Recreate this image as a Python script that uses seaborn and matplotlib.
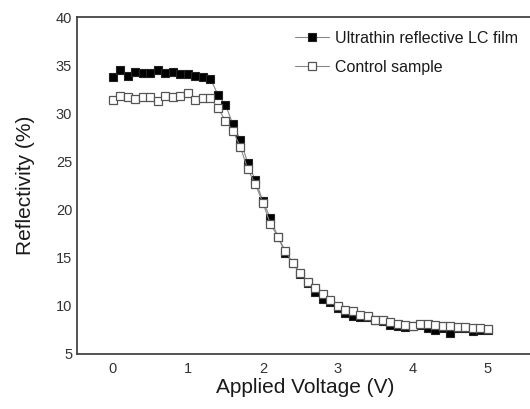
import numpy as np
import pandas as pd
import seaborn as sns
import matplotlib.pyplot as plt

# applied voltage, 0 to 5 V in 0.1 V steps
voltage = [round(0.1 * i, 1) for i in range(51)]

ultrathin = [33.8, 34.47, 33.87, 34.26, 34.15, 34.18, 34.47, 34.15, 34.26, 34.11,
             34.11, 33.87, 33.77, 33.6, 31.93, 30.9, 28.86, 27.23, 24.8, 23.07,
             20.9, 19.1, 17.2, 15.46, 14.4, 13.3, 12.4, 11.48, 10.68, 10.4,
             9.8, 9.3, 8.98, 8.81, 8.8, 8.5, 8.4, 8.02, 7.91, 7.78,
             7.9, 8.0, 7.67, 7.5, 7.67, 7.22, 7.7, 7.7, 7.43, 7.5, 7.5]

control = [31.41, 31.83, 31.66, 31.45, 31.72, 31.66, 31.28, 31.83, 31.69, 31.83,
           32.11, 31.38, 31.62, 31.56, 30.58, 29.23, 28.19, 26.47, 24.18, 22.63,
           20.72, 18.5, 17.2, 15.7, 14.49, 13.4, 12.51, 11.9, 11.2, 10.6,
           10.0, 9.6, 9.5, 9.1, 8.9, 8.55, 8.5, 8.3, 8.15, 8.05,
           7.95, 8.15, 8.1, 8.05, 7.95, 7.9, 7.8, 7.8, 7.7, 7.65, 7.55]

df = pd.DataFrame({'V': voltage, 'film': ultrathin, 'ctrl': control})

sns.set_style('white')
plt.rcParams['font.family'] = ['Liberation Sans', 'DejaVu Sans']
plt.rcParams['text.color'] = '#1a1a1a'
plt.rcParams['axes.labelcolor'] = '#1a1a1a'
plt.rcParams['xtick.color'] = '#333333'
plt.rcParams['ytick.color'] = '#333333'

fig = plt.figure(figsize=(5.3, 4.09), dpi=100)
ax = fig.add_axes([0.1453, 0.1345, 0.8597, 0.8239])

sns.lineplot(data=df, x='V', y='film', ax=ax, color='#888888', lw=0.8,
             marker='s', markersize=5.2, markerfacecolor='black',
             markeredgecolor='#222222', markeredgewidth=0.8,
             label='Ultrathin reflective LC film')
sns.lineplot(data=df, x='V', y='ctrl', ax=ax, color='#888888', lw=0.8,
             marker='s', markersize=5.2, markerfacecolor='white',
             markeredgecolor='#555555', markeredgewidth=0.9,
             label='Control sample')

ax.set_xlim(-0.48, 5.6)
ax.set_ylim(5, 40)
ax.set_xticks(range(0, 6))
ax.set_yticks(range(5, 41, 5))
ax.tick_params(direction='in', length=4, width=1.2, labelsize=10.5)
ax.tick_params(axis='x', pad=6)
for s in ax.spines.values():
    s.set_color('#444444')
    s.set_linewidth(1.3)

ax.set_xlabel('Applied Voltage (V)', fontsize=15, labelpad=1)
ax.set_ylabel('Reflectivity (%)', fontsize=15, labelpad=15)

ax.legend(loc='upper left', bbox_to_anchor=(0.545, 0.94), bbox_transform=fig.transFigure,
          frameon=False, fontsize=11.5, handlelength=2.1, handletextpad=0.4,
          labelspacing=0.85, borderaxespad=0)

fig.savefig('out.png', dpi=100)
